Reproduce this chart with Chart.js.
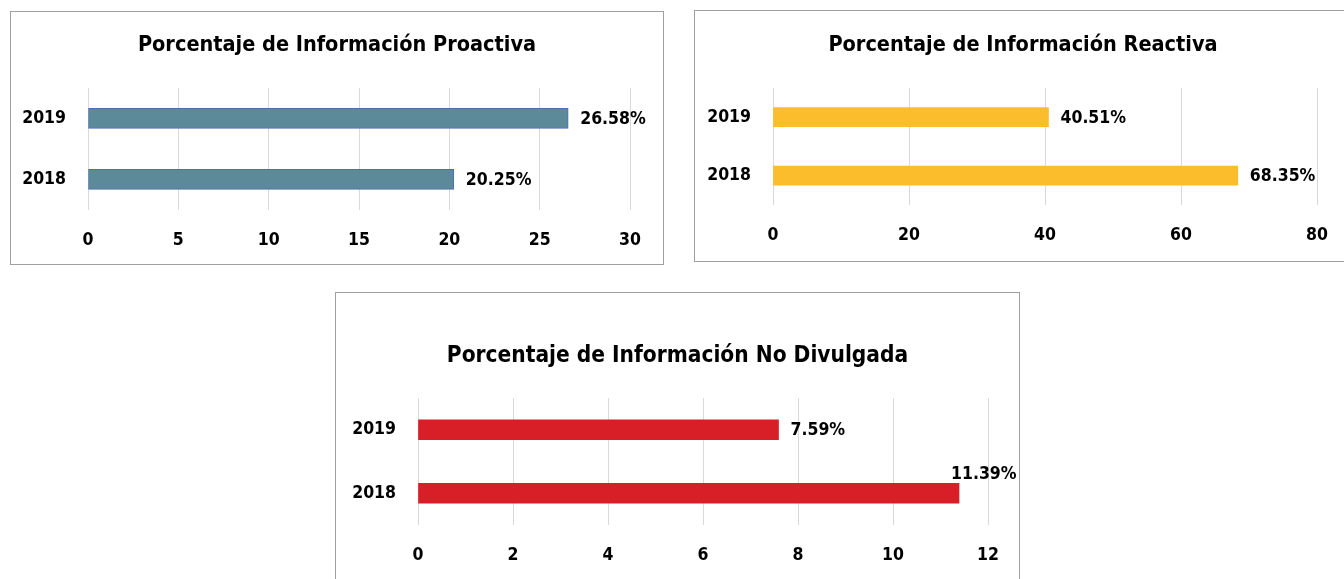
<!DOCTYPE html>
<html>
<head>
<meta charset="utf-8">
<script src="https://cdn.jsdelivr.net/npm/chart.js@4.4.0/dist/chart.umd.min.js"></script>
<style>
  html, body { margin: 0; padding: 0; background: #fff; overflow: hidden; width: 1344px; height: 579px; position: relative; }
  .box { position: absolute; border: 1px solid #a0a0a0; background: #fff; }
  .box canvas { display: block; }
</style>
</head>
<body>
<div class="box" id="box1" style="left:10px; top:11px; width:652px; height:252px;"><canvas id="chart1"></canvas></div>
<div class="box" id="box2" style="left:694px; top:10px; width:656px; height:250px;"><canvas id="chart2"></canvas></div>
<div class="box" id="box3" style="left:335px; top:292px; width:683px; height:298px;"><canvas id="chart3"></canvas></div>
<script>
const years = ['2019', '2018'];
const proactiva = [26.58, 20.25];
const reactiva = [40.51, 68.35];
const noDivulgada = [7.59, 11.39];

const FONT = "'Liberation Sans Narrow', 'Arial Narrow', 'DejaVu Sans Condensed', sans-serif";
const TICK_SIZE = 17.5;

// draws the "xx.xx%" label at the end of every bar
const barLabels = {
    id: 'barLabels',
    afterDatasetsDraw(chart) {
        const ctx = chart.ctx;
        const meta = chart.getDatasetMeta(0);
        const values = chart.data.datasets[0].data;
        ctx.save();
        ctx.font = 'bold ' + TICK_SIZE + 'px ' + FONT;
        ctx.fillStyle = '#000';
        ctx.textBaseline = 'middle';
        ctx.textAlign = 'left';
        meta.data.forEach(function (bar, i) {
            const text = values[i].toFixed(2) + '%';
            const w = ctx.measureText(text).width;
            if (bar.x + 12 + w > chart.width - 4) {
                // no room on the right: put it above the end of the bar
                ctx.fillText(text, bar.x - 8, bar.y - 19);
            } else {
                ctx.fillText(text, bar.x + 12, bar.y + 1);
            }
        });
        ctx.restore();
    }
};

function makeChart(id, title, values, color, border, max, step, s) {
    const canvas = document.getElementById(id);
    new Chart(canvas.getContext('2d'), {
        type: 'bar',
        data: {
            labels: years,
            datasets: [{
                data: values,
                backgroundColor: color,
                borderColor: border,
                borderWidth: border ? 1 : 0,
                borderSkipped: false,
                barThickness: s.bar
            }]
        },
        options: {
            indexAxis: 'y',
            responsive: true,
            maintainAspectRatio: false,
            animation: false,
            plugins: {
                legend: { display: false },
                tooltip: { enabled: false },
                title: {
                    display: true,
                    text: title,
                    color: '#000',
                    font: { family: FONT, size: s.titleSize, weight: 'bold' },
                    padding: { top: s.titleTop, bottom: s.titleBottom }
                }
            },
            scales: {
                x: {
                    min: 0,
                    max: max,
                    border: { display: false },
                    grid: { color: '#d9d9d9', lineWidth: 1, drawTicks: false },
                    ticks: {
                        stepSize: step,
                        color: '#000',
                        padding: 20,
                        font: { family: FONT, size: TICK_SIZE, weight: 'bold' }
                    },
                    afterFit: function (scale) { scale.height = s.xHeight; }
                },
                y: {
                    border: { display: false },
                    grid: { display: false, drawTicks: false },
                    ticks: {
                        color: '#000',
                        padding: 22,
                        font: { family: FONT, size: TICK_SIZE, weight: 'bold' }
                    },
                    afterFit: function (scale) { scale.width = s.left; }
                },
                // empty axis on the right, only keeps room for the value labels
                yRight: {
                    type: 'category',
                    labels: years,
                    position: 'right',
                    border: { display: false },
                    grid: { display: false, drawTicks: false },
                    ticks: { display: false },
                    afterFit: function (scale) { scale.width = s.right; }
                }
            }
        },
        plugins: [barLabels]
    });
}

makeChart('chart1', 'Porcentaje de Información Proactiva', proactiva, '#5c8a98', '#4a6fb5', 30, 5,
    { bar: 20, left: 77, right: 33, titleSize: 21.5, titleTop: 21, titleBottom: 29, xHeight: 54 });
makeChart('chart2', 'Porcentaje de Información Reactiva', reactiva, '#fbbd2b', null, 80, 20,
    { bar: 19, left: 78, right: 34, titleSize: 21.5, titleTop: 22, titleBottom: 29, xHeight: 56 });
makeChart('chart3', 'Porcentaje de Información No Divulgada', noDivulgada, '#d81f27', null, 12, 2,
    { bar: 20, left: 82, right: 31, titleSize: 22.5, titleTop: 50, titleBottom: 28, xHeight: 66 });
</script>
</body>
</html>
